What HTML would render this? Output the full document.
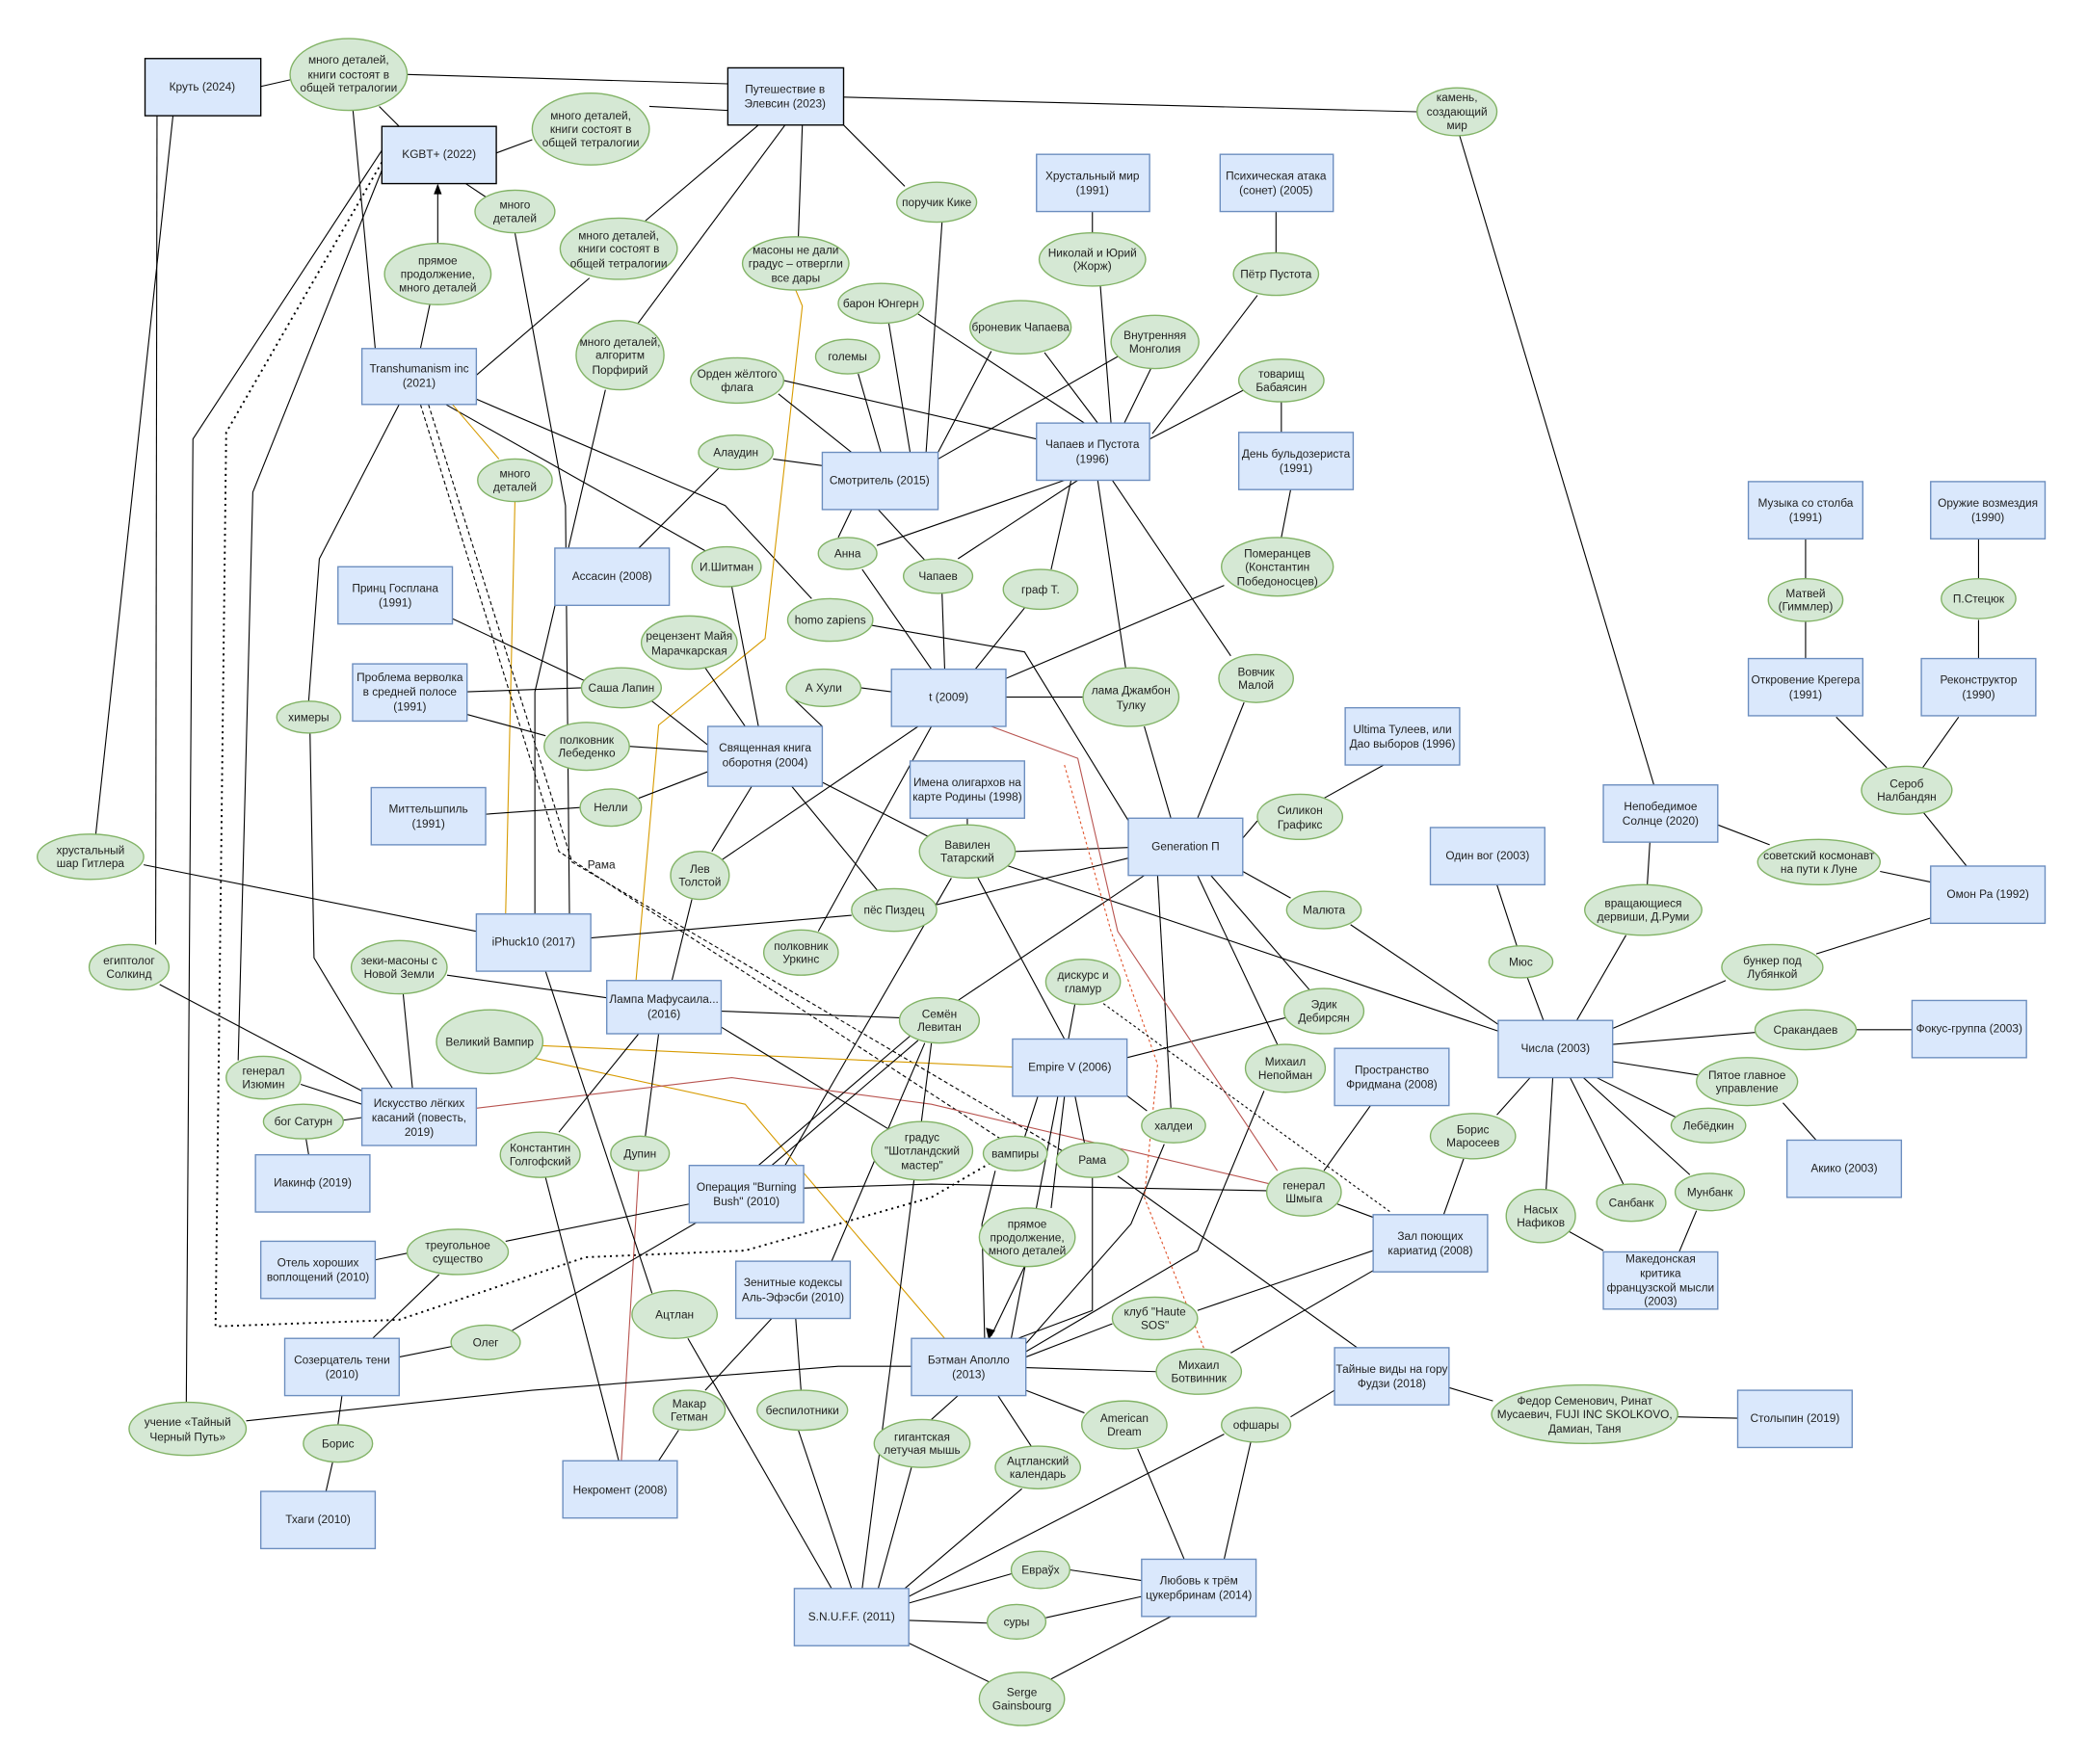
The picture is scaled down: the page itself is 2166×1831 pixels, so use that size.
<!DOCTYPE html>
<html><head><meta charset="utf-8"><style>
html,body{margin:0;padding:0;background:#fff}
svg{display:block}
text{font-family:"Liberation Sans","DejaVu Sans",sans-serif;font-size:8.6px;fill:#222;text-anchor:middle;dominant-baseline:central}
.r{fill:#dae8fc;stroke:#6c8ebf;stroke-width:1}
.rb{fill:#dae8fc;stroke:#000;stroke-width:1}
.e{fill:#d5e8d4;stroke:#82b366;stroke-width:1}
.l path,.l line,.l polyline{fill:none;stroke:#000;stroke-width:0.8}
</style></head><body>
<svg width="2166" height="1831" viewBox="0 0 1568.5 1325.8" preserveAspectRatio="xMinYMin meet" xmlns="http://www.w3.org/2000/svg">
<g class="l">
<polyline points="196,65 218,60"/>
<polyline points="306,56 547,63"/>
<polyline points="285,80 300,95"/>
<polyline points="265,80 282,262"/>
<polyline points="488,80 547,83"/>
<polyline points="373,115 400,105"/>
<polyline points="634,73 1065,84"/>
<polyline points="1097,102 1243,590"/>
<polyline points="634,94 680,140"/>
<polyline points="570,94 485,166"/>
<polyline points="603,94 600,178"/>
<polyline points="590,94 478,245"/>
<polyline points="455,293 402,520 402,687"/>
<polyline points="443,209 358,282"/>
<polyline points="350,138 365,148"/>
<polyline points="387,175 425,380 428,690"/>
<polyline points="323,229 316,262"/>
<polyline points="130,87 72,627"/>
<polyline points="118,87 117,710"/>
<polyline points="287,113 145,330 140,1055"/>
<polyline points="287,128 190,370 179,797"/>
<polyline points="287,122 170,325 162,997 300,992 440,945 560,940 700,900 748,872" style="stroke-dasharray:1.5 3;stroke-width:1.4"/>
<polyline points="300,304 240,420 232,527"/>
<polyline points="233,551 236,720 295,818"/>
<polyline points="335,304 530,414"/>
<polyline points="358,300 545,380 610,450"/>
<polyline points="340,304 375,345" style="stroke:#d79b00"/>
<polyline points="387,377 380,687" style="stroke:#d79b00"/>
<polyline points="316,304 420,640 755,858" style="stroke-dasharray:3 2"/>
<polyline points="322,304 430,648 800,866" style="stroke-dasharray:3 2"/>
<polyline points="598,218 603,230 575,480 495,545 478,737" style="stroke:#d79b00"/>
<polyline points="821,159 821,175"/>
<polyline points="827,215 835,318"/>
<polyline points="959,159 959,190"/>
<polyline points="945,222 866,326"/>
<polyline points="708,167 696,340"/>
<polyline points="668,243 684,340"/>
<polyline points="690,236 815,318"/>
<polyline points="745,264 705,340"/>
<polyline points="785,265 825,318"/>
<polyline points="840,268 705,345"/>
<polyline points="865,277 845,318"/>
<polyline points="645,281 662,340"/>
<polyline points="585,296 640,340"/>
<polyline points="589,286 779,330"/>
<polyline points="935,293 864,330"/>
<polyline points="581,345 618,350"/>
<polyline points="540,352 480,412"/>
<polyline points="640,383 630,404"/>
<polyline points="660,383 695,421"/>
<polyline points="800,361 659,410"/>
<polyline points="810,361 720,420"/>
<polyline points="805,361 790,428"/>
<polyline points="825,361 846,502"/>
<polyline points="836,361 925,493"/>
<polyline points="963,302 963,325"/>
<polyline points="970,368 963,404"/>
<polyline points="920,440 756,510"/>
<polyline points="648,428 700,503"/>
<polyline points="708,446 710,503"/>
<polyline points="770,457 733,503"/>
<polyline points="655,470 770,490 850,620"/>
<polyline points="550,441 570,546"/>
<polyline points="530,502 560,546"/>
<polyline points="340,465 440,512"/>
<polyline points="351,520 437,517"/>
<polyline points="490,527 532,560"/>
<polyline points="351,537 410,553"/>
<polyline points="473,561 532,565"/>
<polyline points="595,524 618,546"/>
<polyline points="647,517 670,520"/>
<polyline points="365,612 436,607"/>
<polyline points="480,600 532,580"/>
<polyline points="565,591 535,640"/>
<polyline points="595,591 660,670"/>
<polyline points="618,588 700,630"/>
<polyline points="756,524 814,524"/>
<polyline points="690,546 540,648"/>
<polyline points="700,546 615,700"/>
<polyline points="520,676 505,737"/>
<polyline points="727,615 727,620"/>
<polyline points="763,640 848,637"/>
<polyline points="735,660 800,781"/>
<polyline points="755,650 1126,775"/>
<polyline points="715,660 590,876"/>
<polyline points="704,680 848,645"/>
<polyline points="640,688 444,705"/>
<polyline points="108,650 358,700"/>
<polyline points="1040,575 995,600"/>
<polyline points="945,617 934,630"/>
<polyline points="935,528 900,615"/>
<polyline points="860,546 880,615"/>
<polyline points="934,655 970,675"/>
<polyline points="910,658 985,745"/>
<polyline points="900,658 960,785"/>
<polyline points="870,658 880,833"/>
<polyline points="860,658 720,752"/>
<polyline points="1015,695 1126,770"/>
<polyline points="1125,665 1140,711"/>
<polyline points="1148,735 1160,767"/>
<polyline points="1240,633 1238,665"/>
<polyline points="1222,703 1185,767"/>
<polyline points="1291,620 1330,635"/>
<polyline points="1413,655 1451,663"/>
<polyline points="1445,610 1478,651"/>
<polyline points="1472,539 1445,577"/>
<polyline points="1380,539 1418,577"/>
<polyline points="1357,405 1357,436"/>
<polyline points="1357,467 1357,495"/>
<polyline points="1487,405 1487,435"/>
<polyline points="1487,466 1487,495"/>
<polyline points="1365,717 1451,690"/>
<polyline points="1297,737 1212,773"/>
<polyline points="1212,785 1320,776"/>
<polyline points="1395,774 1437,774"/>
<polyline points="1212,798 1276,808"/>
<polyline points="1340,829 1365,857"/>
<polyline points="1200,810 1260,840"/>
<polyline points="1190,810 1270,883"/>
<polyline points="1180,810 1220,890"/>
<polyline points="1167,810 1162,894"/>
<polyline points="1150,810 1125,838"/>
<polyline points="1275,910 1262,941"/>
<polyline points="1178,925 1205,940"/>
<polyline points="1100,871 1085,913"/>
<polyline points="1030,831 995,880"/>
<polyline points="966,765 847,795"/>
<polyline points="408,786 761,802" style="stroke:#d79b00"/>
<polyline points="400,795 560,830 710,1006" style="stroke:#d79b00"/>
<polyline points="542,760 676,765"/>
<polyline points="336,733 456,750"/>
<polyline points="495,777 485,854"/>
<polyline points="480,777 420,851"/>
<polyline points="542,772 670,850"/>
<polyline points="303,747 310,818"/>
<polyline points="120,740 272,820"/>
<polyline points="226,815 272,830"/>
<polyline points="258,842 272,840"/>
<polyline points="230,856 232,868"/>
<polyline points="358,833 550,810 700,830 955,890" style="stroke:#b85450"/>
<polyline points="410,885 465,1098"/>
<polyline points="480,880 467,1098" style="stroke:#b85450"/>
<polyline points="410,730 490,972"/>
<polyline points="517,1006 625,1194"/>
<polyline points="690,782 580,876"/>
<polyline points="686,777 570,876"/>
<polyline points="695,784 625,948"/>
<polyline points="700,784 648,1194"/>
<polyline points="604,893 700,890 952,895"/>
<polyline points="525,918 385,1000"/>
<polyline points="518,905 380,933"/>
<polyline points="282,947 306,942"/>
<polyline points="330,958 280,1006"/>
<polyline points="340,1012 300,1020"/>
<polyline points="257,1049 254,1071"/>
<polyline points="250,1099 245,1121"/>
<polyline points="185,1068 400,1045 630,1027 685,1027"/>
<polyline points="580,991 530,1045"/>
<polyline points="598,991 602,1045"/>
<polyline points="510,1075 495,1098"/>
<polyline points="600,1075 640,1194"/>
<polyline points="685,1103 660,1194"/>
<polyline points="768,1119 680,1194"/>
<polyline points="771,1045 815,1062"/>
<polyline points="855,1089 890,1172"/>
<polyline points="750,1049 775,1087"/>
<polyline points="720,1049 700,1067"/>
<polyline points="771,1028 869,1031"/>
<polyline points="770,952 745,1004"/>
<polyline points="748,880 738,920 740,1006"/>
<polyline points="795,824 760,1006"/>
<polyline points="780,824 770,855"/>
<polyline points="808,824 815,859"/>
<polyline points="845,822 862,835"/>
<polyline points="800,824 790,908"/>
<polyline points="821,885 821,985 765,1006"/>
<polyline points="840,884 1020,1013"/>
<polyline points="875,860 850,920 771,1010"/>
<polyline points="950,820 900,940 771,1016"/>
<polyline points="1005,905 1032,915"/>
<polyline points="1032,940 900,985"/>
<polyline points="836,995 771,1020"/>
<polyline points="1032,955 925,1017"/>
<polyline points="1089,1043 1122,1053"/>
<polyline points="1261,1065 1306,1066"/>
<polyline points="1003,1045 970,1065"/>
<polyline points="940,1084 920,1172"/>
<polyline points="920,1078 683,1200"/>
<polyline points="858,1188 804,1180"/>
<polyline points="760,1183 683,1205"/>
<polyline points="683,1218 742,1220"/>
<polyline points="786,1216 858,1200"/>
<polyline points="683,1235 745,1265"/>
<polyline points="790,1262 880,1215"/>
<polyline points="745,546 810,570 840,700 960,880" style="stroke:#b85450"/>
<polyline points="800,575 835,700 870,800 860,900 905,1014" style="stroke:#e0542c;stroke-dasharray:2 2"/>
<polyline points="826,752 1045,911" style="stroke-dasharray:2 2"/>
<polyline points="808,754 803,781"/>
<polyline points="329,183 329,142"/>
</g>
<polygon points="329,138 326,146 332,146" fill="#000"/>
<polygon points="743,1007 741,998 748,1000" fill="#000"/>
<g>
<rect class="rb" x="109" y="44" width="87" height="43"/><text x="152" y="65">Круть (2024)</text>
<rect class="rb" x="287" y="95" width="86" height="43"/><text x="330" y="116">KGBT+ (2022)</text>
<rect class="rb" x="547" y="51" width="87" height="43"/><text x="590" y="67">Путешествие в</text><text x="590" y="78">Элевсин (2023)</text>
<rect class="r" x="272" y="262" width="86" height="42"/><text x="315" y="277">Transhumanism inc</text><text x="315" y="288">(2021)</text>
<rect class="r" x="779" y="116" width="85" height="43"/><text x="821" y="132">Хрустальный мир</text><text x="821" y="143">(1991)</text>
<rect class="r" x="917" y="116" width="85" height="43"/><text x="959" y="132">Психическая атака</text><text x="959" y="143">(сонет) (2005)</text>
<rect class="r" x="779" y="318" width="85" height="43"/><text x="821" y="334">Чапаев и Пустота</text><text x="821" y="345">(1996)</text>
<rect class="r" x="618" y="340" width="87" height="43"/><text x="661" y="361">Смотритель (2015)</text>
<rect class="r" x="931" y="325" width="86" height="43"/><text x="974" y="341">День бульдозериста</text><text x="974" y="352">(1991)</text>
<rect class="r" x="417" y="412" width="86" height="43"/><text x="460" y="433">Ассасин (2008)</text>
<rect class="r" x="254" y="426" width="86" height="43"/><text x="297" y="442">Принц Госплана</text><text x="297" y="453">(1991)</text>
<rect class="r" x="265" y="499" width="86" height="43"/><text x="308" y="509">Проблема верволка</text><text x="308" y="520">в средней полосе</text><text x="308" y="531">(1991)</text>
<rect class="r" x="670" y="503" width="86" height="43"/><text x="713" y="524">t (2009)</text>
<rect class="r" x="532" y="546" width="86" height="45"/><text x="575" y="562">Священная книга</text><text x="575" y="573">оборотня (2004)</text>
<rect class="r" x="684" y="572" width="86" height="43"/><text x="727" y="588">Имена олигархов на</text><text x="727" y="599">карте Родины (1998)</text>
<rect class="r" x="1011" y="532" width="86" height="43"/><text x="1054" y="548">Ultima Тулеев, или</text><text x="1054" y="559">Дао выборов (1996)</text>
<rect class="r" x="848" y="615" width="86" height="43"/><text x="891" y="636">Generation П</text>
<rect class="r" x="279" y="592" width="86" height="43"/><text x="322" y="608">Миттельшпиль</text><text x="322" y="619">(1991)</text>
<rect class="r" x="358" y="687" width="86" height="43"/><text x="401" y="708">iPhuck10 (2017)</text>
<rect class="r" x="456" y="737" width="86" height="40"/><text x="499" y="751">Лампа Мафусаила...</text><text x="499" y="762">(2016)</text>
<rect class="r" x="761" y="781" width="86" height="43"/><text x="804" y="802">Empire V (2006)</text>
<rect class="r" x="1003" y="788" width="86" height="43"/><text x="1046" y="804">Пространство</text><text x="1046" y="815">Фридмана (2008)</text>
<rect class="r" x="272" y="818" width="86" height="43"/><text x="315" y="829">Искусство лёгких</text><text x="315" y="840">касаний (повесть,</text><text x="315" y="851">2019)</text>
<rect class="r" x="192" y="868" width="86" height="43"/><text x="235" y="889">Иакинф (2019)</text>
<rect class="r" x="518" y="876" width="86" height="43"/><text x="561" y="892">Операция "Burning</text><text x="561" y="903">Bush" (2010)</text>
<rect class="r" x="196" y="933" width="86" height="43"/><text x="239" y="949">Отель хороших</text><text x="239" y="960">воплощений (2010)</text>
<rect class="r" x="553" y="948" width="86" height="43"/><text x="596" y="964">Зенитные кодексы</text><text x="596" y="975">Аль-Эфэсби (2010)</text>
<rect class="r" x="1032" y="913" width="86" height="43"/><text x="1075" y="929">Зал поющих</text><text x="1075" y="940">кариатид (2008)</text>
<rect class="r" x="214" y="1006" width="86" height="43"/><text x="257" y="1022">Созерцатель тени</text><text x="257" y="1033">(2010)</text>
<rect class="r" x="685" y="1006" width="86" height="43"/><text x="728" y="1022">Бэтман Аполло</text><text x="728" y="1033">(2013)</text>
<rect class="r" x="1003" y="1013" width="86" height="43"/><text x="1046" y="1029">Тайные виды на гору</text><text x="1046" y="1040">Фудзи (2018)</text>
<rect class="r" x="196" y="1121" width="86" height="43"/><text x="239" y="1142">Тхаги (2010)</text>
<rect class="r" x="423" y="1098" width="86" height="43"/><text x="466" y="1120">Некромент (2008)</text>
<rect class="r" x="597" y="1194" width="86" height="43"/><text x="640" y="1215">S.N.U.F.F. (2011)</text>
<rect class="r" x="858" y="1172" width="86" height="43"/><text x="901" y="1188">Любовь к трём</text><text x="901" y="1199">цукербринам (2014)</text>
<rect class="r" x="1306" y="1045" width="86" height="43"/><text x="1349" y="1066">Столыпин (2019)</text>
<rect class="r" x="1205" y="590" width="86" height="43"/><text x="1248" y="606">Непобедимое</text><text x="1248" y="617">Солнце (2020)</text>
<rect class="r" x="1075" y="622" width="86" height="43"/><text x="1118" y="643">Один вог (2003)</text>
<rect class="r" x="1126" y="767" width="86" height="43"/><text x="1169" y="788">Числа (2003)</text>
<rect class="r" x="1437" y="752" width="86" height="43"/><text x="1480" y="773">Фокус-группа (2003)</text>
<rect class="r" x="1343" y="857" width="86" height="43"/><text x="1386" y="878">Акико (2003)</text>
<rect class="r" x="1205" y="941" width="86" height="43"/><text x="1248" y="946">Македонская</text><text x="1248" y="957">критика</text><text x="1248" y="968">французской мысли</text><text x="1248" y="978">(2003)</text>
<rect class="r" x="1451" y="651" width="86" height="43"/><text x="1494" y="672">Омон Ра (1992)</text>
<rect class="r" x="1314" y="362" width="86" height="43"/><text x="1357" y="378">Музыка со столба</text><text x="1357" y="389">(1991)</text>
<rect class="r" x="1451" y="362" width="86" height="43"/><text x="1494" y="378">Оружие возмездия</text><text x="1494" y="389">(1990)</text>
<rect class="r" x="1314" y="495" width="86" height="43"/><text x="1357" y="511">Откровение Крегера</text><text x="1357" y="522">(1991)</text>
<rect class="r" x="1444" y="495" width="86" height="43"/><text x="1487" y="511">Реконструктор</text><text x="1487" y="522">(1990)</text>
</g>
<g>
<ellipse class="e" cx="262" cy="56" rx="44" ry="27"/><text x="262" y="45">много деталей,</text><text x="262" y="56">книги состоят в</text><text x="262" y="66">общей тетралогии</text>
<ellipse class="e" cx="444" cy="97" rx="44" ry="27"/><text x="444" y="87">много деталей,</text><text x="444" y="97">книги состоят в</text><text x="444" y="107">общей тетралогии</text>
<ellipse class="e" cx="1095" cy="84" rx="30" ry="18"/><text x="1095" y="73">камень,</text><text x="1095" y="84">создающий</text><text x="1095" y="94">мир</text>
<ellipse class="e" cx="387" cy="159" rx="30" ry="16"/><text x="387" y="154">много</text><text x="387" y="164">деталей</text>
<ellipse class="e" cx="329" cy="206" rx="40" ry="23"/><text x="329" y="196">прямое</text><text x="329" y="206">продолжение,</text><text x="329" y="216">много деталей</text>
<ellipse class="e" cx="465" cy="187" rx="44" ry="23"/><text x="465" y="177">много деталей,</text><text x="465" y="187">книги состоят в</text><text x="465" y="198">общей тетралогии</text>
<ellipse class="e" cx="598" cy="198" rx="40" ry="20"/><text x="598" y="188">масоны не дали</text><text x="598" y="198">градус – отвергли</text><text x="598" y="209">все дары</text>
<ellipse class="e" cx="704" cy="152" rx="30" ry="15"/><text x="704" y="152">поручик Кике</text>
<ellipse class="e" cx="821" cy="195" rx="40" ry="20"/><text x="821" y="190">Николай и Юрий</text><text x="821" y="200">(Жорж)</text>
<ellipse class="e" cx="959" cy="206" rx="32" ry="16"/><text x="959" y="206">Пётр Пустота</text>
<ellipse class="e" cx="662" cy="228" rx="32" ry="15"/><text x="662" y="228">барон Юнгерн</text>
<ellipse class="e" cx="767" cy="246" rx="38" ry="20"/><text x="767" y="246">броневик Чапаева</text>
<ellipse class="e" cx="868" cy="257" rx="33" ry="20"/><text x="868" y="252">Внутренняя</text><text x="868" y="262">Монголия</text>
<ellipse class="e" cx="637" cy="268" rx="24" ry="13"/><text x="637" y="268">големы</text>
<ellipse class="e" cx="466" cy="267" rx="33" ry="26"/><text x="466" y="257">много деталей,</text><text x="466" y="267">алгоритм</text><text x="466" y="278">Порфирий</text>
<ellipse class="e" cx="554" cy="286" rx="35" ry="17"/><text x="554" y="281">Орден жёлтого</text><text x="554" y="291">флага</text>
<ellipse class="e" cx="963" cy="286" rx="32" ry="16"/><text x="963" y="281">товарищ</text><text x="963" y="291">Бабаясин</text>
<ellipse class="e" cx="553" cy="340" rx="28" ry="13"/><text x="553" y="340">Алаудин</text>
<ellipse class="e" cx="387" cy="361" rx="28" ry="16"/><text x="387" y="356">много</text><text x="387" y="366">деталей</text>
<ellipse class="e" cx="960" cy="426" rx="42" ry="22"/><text x="960" y="416">Померанцев</text><text x="960" y="426">(Константин</text><text x="960" y="437">Победоносцев)</text>
<ellipse class="e" cx="637" cy="416" rx="22" ry="12"/><text x="637" y="416">Анна</text>
<ellipse class="e" cx="705" cy="433" rx="26" ry="13"/><text x="705" y="433">Чапаев</text>
<ellipse class="e" cx="782" cy="443" rx="28" ry="15"/><text x="782" y="443">граф Т.</text>
<ellipse class="e" cx="546" cy="426" rx="26" ry="15"/><text x="546" y="426">И.Шитман</text>
<ellipse class="e" cx="624" cy="466" rx="32" ry="16"/><text x="624" y="466">homo zapiens</text>
<ellipse class="e" cx="518" cy="483" rx="36" ry="20"/><text x="518" y="478">рецензент Майя</text><text x="518" y="489">Марачкарская</text>
<ellipse class="e" cx="467" cy="517" rx="30" ry="15"/><text x="467" y="517">Саша Лапин</text>
<ellipse class="e" cx="619" cy="517" rx="28" ry="14"/><text x="619" y="517">А Хули</text>
<ellipse class="e" cx="850" cy="524" rx="36" ry="22"/><text x="850" y="519">лама Джамбон</text><text x="850" y="530">Тулку</text>
<ellipse class="e" cx="944" cy="510" rx="28" ry="18"/><text x="944" y="505">Вовчик</text><text x="944" y="515">Малой</text>
<ellipse class="e" cx="232" cy="539" rx="24" ry="12"/><text x="232" y="539">химеры</text>
<ellipse class="e" cx="441" cy="561" rx="32" ry="18"/><text x="441" y="556">полковник</text><text x="441" y="566">Лебеденко</text>
<ellipse class="e" cx="977" cy="614" rx="32" ry="17"/><text x="977" y="609">Силикон</text><text x="977" y="620">Графикс</text>
<ellipse class="e" cx="459" cy="607" rx="23" ry="14"/><text x="459" y="607">Нелли</text>
<ellipse class="e" cx="68" cy="644" rx="40" ry="17"/><text x="68" y="639">хрустальный</text><text x="68" y="649">шар Гитлера</text>
<text x="452" y="650">Рама</text>
<ellipse class="e" cx="526" cy="658" rx="22" ry="18"/><text x="526" y="653">Лев</text><text x="526" y="663">Толстой</text>
<ellipse class="e" cx="727" cy="640" rx="36" ry="20"/><text x="727" y="635">Вавилен</text><text x="727" y="645">Татарский</text>
<ellipse class="e" cx="672" cy="684" rx="32" ry="16"/><text x="672" y="684">пёс Пиздец</text>
<ellipse class="e" cx="995" cy="684" rx="28" ry="14"/><text x="995" y="684">Малюта</text>
<ellipse class="e" cx="1235" cy="684" rx="44" ry="19"/><text x="1235" y="679">вращающиеся</text><text x="1235" y="689">дервиши, Д.Руми</text>
<ellipse class="e" cx="1367" cy="648" rx="46" ry="17"/><text x="1367" y="643">советский космонавт</text><text x="1367" y="653">на пути к Луне</text>
<ellipse class="e" cx="1332" cy="727" rx="38" ry="17"/><text x="1332" y="722">бункер под</text><text x="1332" y="732">Лубянкой</text>
<ellipse class="e" cx="1143" cy="723" rx="24" ry="12"/><text x="1143" y="723">Мюс</text>
<ellipse class="e" cx="1433" cy="594" rx="34" ry="18"/><text x="1433" y="589">Сероб</text><text x="1433" y="599">Налбандян</text>
<ellipse class="e" cx="1357" cy="451" rx="28" ry="16"/><text x="1357" y="446">Матвей</text><text x="1357" y="456">(Гиммлер)</text>
<ellipse class="e" cx="1487" cy="450" rx="28" ry="15"/><text x="1487" y="450">П.Стецюк</text>
<ellipse class="e" cx="602" cy="716" rx="28" ry="17"/><text x="602" y="711">полковник</text><text x="602" y="721">Уркинс</text>
<ellipse class="e" cx="300" cy="727" rx="36" ry="20"/><text x="300" y="722">зеки-масоны с</text><text x="300" y="732">Новой Земли</text>
<ellipse class="e" cx="97" cy="727" rx="30" ry="17"/><text x="97" y="722">египтолог</text><text x="97" y="732">Солкинд</text>
<ellipse class="e" cx="814" cy="738" rx="28" ry="17"/><text x="814" y="733">дискурс и</text><text x="814" y="743">гламур</text>
<ellipse class="e" cx="706" cy="767" rx="30" ry="17"/><text x="706" y="762">Семён</text><text x="706" y="772">Левитан</text>
<ellipse class="e" cx="995" cy="760" rx="30" ry="17"/><text x="995" y="755">Эдик</text><text x="995" y="765">Дебирсян</text>
<ellipse class="e" cx="1357" cy="774" rx="38" ry="15"/><text x="1357" y="774">Сракандаев</text>
<ellipse class="e" cx="368" cy="783" rx="40" ry="24"/><text x="368" y="783">Великий Вампир</text>
<ellipse class="e" cx="966" cy="803" rx="30" ry="18"/><text x="966" y="798">Михаил</text><text x="966" y="808">Непойман</text>
<ellipse class="e" cx="1313" cy="813" rx="38" ry="18"/><text x="1313" y="808">Пятое главное</text><text x="1313" y="818">управление</text>
<ellipse class="e" cx="198" cy="810" rx="28" ry="16"/><text x="198" y="805">генерал</text><text x="198" y="815">Изюмин</text>
<ellipse class="e" cx="228" cy="843" rx="30" ry="13"/><text x="228" y="843">бог Сатурн</text>
<ellipse class="e" cx="406" cy="868" rx="30" ry="17"/><text x="406" y="863">Константин</text><text x="406" y="873">Голгофский</text>
<ellipse class="e" cx="1107" cy="854" rx="32" ry="17"/><text x="1107" y="849">Борис</text><text x="1107" y="859">Маросеев</text>
<ellipse class="e" cx="882" cy="846" rx="24" ry="13"/><text x="882" y="846">халдеи</text>
<ellipse class="e" cx="1284" cy="846" rx="28" ry="13"/><text x="1284" y="846">Лебёдкин</text>
<ellipse class="e" cx="693" cy="865" rx="38" ry="22"/><text x="693" y="855">градус</text><text x="693" y="865">"Шотландский</text><text x="693" y="876">мастер"</text>
<ellipse class="e" cx="481" cy="867" rx="22" ry="13"/><text x="481" y="867">Дупин</text>
<ellipse class="e" cx="763" cy="867" rx="24" ry="13"/><text x="763" y="867">вампиры</text>
<ellipse class="e" cx="821" cy="872" rx="27" ry="13"/><text x="821" y="872">Рама</text>
<ellipse class="e" cx="980" cy="896" rx="28" ry="18"/><text x="980" y="891">генерал</text><text x="980" y="901">Шмыга</text>
<ellipse class="e" cx="1285" cy="896" rx="26" ry="14"/><text x="1285" y="896">Мунбанк</text>
<ellipse class="e" cx="1226" cy="904" rx="26" ry="14"/><text x="1226" y="904">Санбанк</text>
<ellipse class="e" cx="1158" cy="914" rx="26" ry="20"/><text x="1158" y="909">Насых</text><text x="1158" y="919">Нафиков</text>
<ellipse class="e" cx="772" cy="930" rx="36" ry="22"/><text x="772" y="920">прямое</text><text x="772" y="930">продолжение,</text><text x="772" y="940">много деталей</text>
<ellipse class="e" cx="344" cy="941" rx="38" ry="17"/><text x="344" y="936">треугольное</text><text x="344" y="946">существо</text>
<ellipse class="e" cx="507" cy="988" rx="32" ry="18"/><text x="507" y="988">Ацтлан</text>
<ellipse class="e" cx="868" cy="991" rx="32" ry="16"/><text x="868" y="986">клуб "Haute</text><text x="868" y="996">SOS"</text>
<ellipse class="e" cx="365" cy="1009" rx="26" ry="13"/><text x="365" y="1009">Олег</text>
<ellipse class="e" cx="901" cy="1031" rx="32" ry="17"/><text x="901" y="1026">Михаил</text><text x="901" y="1036">Ботвинник</text>
<ellipse class="e" cx="141" cy="1074" rx="44" ry="20"/><text x="141" y="1069">учение «Тайный</text><text x="141" y="1080">Черный Путь»</text>
<ellipse class="e" cx="518" cy="1060" rx="27" ry="15"/><text x="518" y="1055">Макар</text><text x="518" y="1065">Гетман</text>
<ellipse class="e" cx="603" cy="1060" rx="34" ry="15"/><text x="603" y="1060">беспилотники</text>
<ellipse class="e" cx="845" cy="1071" rx="32" ry="18"/><text x="845" y="1066">American</text><text x="845" y="1076">Dream</text>
<ellipse class="e" cx="944" cy="1071" rx="26" ry="13"/><text x="944" y="1071">офшары</text>
<ellipse class="e" cx="693" cy="1085" rx="36" ry="18"/><text x="693" y="1080">гигантская</text><text x="693" y="1090">летучая мышь</text>
<ellipse class="e" cx="254" cy="1085" rx="26" ry="14"/><text x="254" y="1085">Борис</text>
<ellipse class="e" cx="780" cy="1103" rx="32" ry="16"/><text x="780" y="1098">Ацтланский</text><text x="780" y="1108">календарь</text>
<ellipse class="e" cx="1191" cy="1063" rx="70" ry="22"/><text x="1191" y="1053">Федор Семенович, Ринат</text><text x="1191" y="1063">Мусаевич, FUJI INC SKOLKOVO,</text><text x="1191" y="1074">Дамиан, Таня</text>
<ellipse class="e" cx="782" cy="1180" rx="22" ry="14"/><text x="782" y="1180">Евраўх</text>
<ellipse class="e" cx="764" cy="1219" rx="22" ry="13"/><text x="764" y="1219">суры</text>
<ellipse class="e" cx="768" cy="1277" rx="32" ry="20"/><text x="768" y="1272">Serge</text><text x="768" y="1282">Gainsbourg</text>
</g>
</svg>
</body></html>
